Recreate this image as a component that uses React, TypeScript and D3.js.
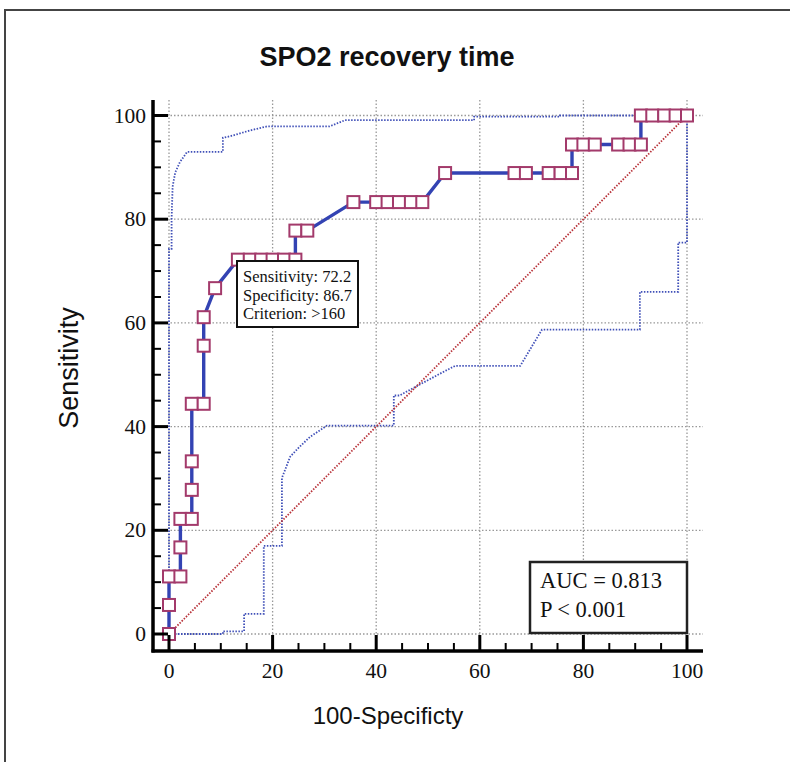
import React from "react";
import * as d3 from "d3";

const rocFpr = [0, 0, 0, 2.2, 2.2, 2.2, 4.4, 4.4, 4.4, 4.4, 6.7, 6.7, 6.7, 8.9, 13.3, 15.6, 17.8, 20, 22.2, 24.4, 24.4, 26.7, 35.6, 40, 42.2, 44.4, 46.7, 48.9, 53.3, 66.7, 68.9, 73.3, 75.6, 77.8, 77.8, 80, 82.2, 86.7, 88.9, 91.1, 91.1, 93.3, 95.6, 97.8, 100];
const rocSens = [0, 5.6, 11.1, 11.1, 16.7, 22.2, 22.2, 27.8, 33.3, 44.4, 44.4, 55.6, 61.1, 66.7, 72.2, 72.2, 72.2, 72.2, 72.2, 72.2, 77.8, 77.8, 83.3, 83.3, 83.3, 83.3, 83.3, 83.3, 88.9, 88.9, 88.9, 88.9, 88.9, 88.9, 94.4, 94.4, 94.4, 94.4, 94.4, 94.4, 100, 100, 100, 100, 100];

const upperFpr = [0, 0, 0.5, 0.5, 0.7, 1.2, 2.1, 3.5, 10.4, 10.4, 11.8, 15.6, 18.9, 31, 34, 58.9, 58.9, 75.5, 75.5, 100];
const upperSens = [0, 74.3, 74.3, 80, 86.3, 89, 91, 93, 93, 95.7, 96, 97.1, 97.9, 97.9, 99.1, 99.1, 99.8, 99.8, 100, 100];

const lowerFpr = [0, 10.4, 10.4, 14.5, 14.5, 18.3, 18.3, 21.8, 21.8, 23.4, 25, 27.2, 30.5, 43.4, 43.4, 44.5, 52.3, 55.2, 67.8, 72, 90.9, 90.9, 98.3, 98.3, 100, 100];
const lowerSens = [0, 0, 0.5, 0.5, 3.9, 3.9, 17, 17, 30.1, 34.2, 35.9, 38, 40.2, 40.2, 46, 46, 50.2, 51.7, 51.7, 58.7, 58.7, 66, 66, 75.5, 75.5, 100];

const majorTicks = [0, 20, 40, 60, 80, 100];
const minorTicks = [5, 10, 15, 25, 30, 35, 45, 50, 55, 65, 70, 75, 85, 90, 95];

const titleText = "SPO2 recovery time";
const xLabel = "100-Specificty";
const yLabel = "Sensitivity";
const criterionLines = ["Sensitivity: 72.2", "Specificity: 86.7", "Criterion: >160"];
const statLines = ["AUC = 0.813", "P < 0.001"];

export default function App() {
  const W = 790, H = 762;
  const x = d3.scaleLinear().domain([0, 100]).range([169, 687]);
  const y = d3.scaleLinear().domain([0, 100]).range([634, 115.5]);
  const axisLeft = 153, axisBottom = 651, plotRight = 703, plotTop = 100;

  const line = d3.line<[number, number]>().x(d => x(d[0])).y(d => y(d[1]));
  const roc = rocFpr.map((v, i) => [v, rocSens[i]] as [number, number]);
  const upper = upperFpr.map((v, i) => [v, upperSens[i]] as [number, number]);
  const lower = lowerFpr.map((v, i) => [v, lowerSens[i]] as [number, number]);

  const serif = "'Liberation Serif', 'Times New Roman', serif";
  const sans = "'Liberation Sans', Arial, sans-serif";
  const ms = 12;

  return (
    <svg width={W} height={H} style={{ position: "absolute", left: 0, top: 0, background: "#fff" }}>
      <rect x={0} y={0} width={W} height={H} fill="#fff" />
      <path d={`M5,${H} L5,10 L${W},10`} fill="none" stroke="#444" strokeWidth={2} />
      <text x={387} y={66} textAnchor="middle" fontFamily={sans} fontWeight="bold" fontSize={27} fill="#111">{titleText}</text>

      {majorTicks.map(t => (
        <g key={"g" + t}>
          <line x1={axisLeft} x2={plotRight} y1={y(t)} y2={y(t)} stroke="#999" strokeWidth={1.3} strokeDasharray="1.5,2" />
          <line x1={x(t)} x2={x(t)} y1={plotTop} y2={axisBottom} stroke="#999" strokeWidth={1.3} strokeDasharray="1.5,2" />
        </g>
      ))}

      <path d={line(upper) || ""} fill="none" stroke="#4050b8" strokeWidth={1.8} strokeDasharray="1.5,1.5" />
      <path d={line(lower) || ""} fill="none" stroke="#4050b8" strokeWidth={1.8} strokeDasharray="1.5,1.5" />
      <path d={line([[0, 0], [100, 100]]) || ""} fill="none" stroke="#b8333a" strokeWidth={1.8} strokeDasharray="1.5,1.5" />

      <path d={line(roc) || ""} fill="none" stroke="#3343b3" strokeWidth={3.4} strokeLinejoin="round" />
      {roc.map((d, i) => (
        <rect key={"m" + i} x={x(d[0]) - ms / 2} y={y(d[1]) - ms / 2} width={ms} height={ms} fill="#fff" stroke="#a33a6b" strokeWidth={2} />
      ))}

      <line x1={axisLeft} x2={axisLeft} y1={plotTop} y2={axisBottom + 1.5} stroke="#000" strokeWidth={3.5} />
      <line x1={axisLeft - 1.5} x2={plotRight} y1={axisBottom} y2={axisBottom} stroke="#000" strokeWidth={3.5} />
      {majorTicks.map(t => (
        <g key={"t" + t}>
          <line x1={axisLeft} x2={axisLeft + 15} y1={y(t)} y2={y(t)} stroke="#000" strokeWidth={3} />
          <line x1={x(t)} x2={x(t)} y1={axisBottom} y2={axisBottom - 16} stroke="#000" strokeWidth={3} />
          <text x={146} y={y(t) + 7} textAnchor="end" fontFamily={serif} fontSize={21.5} fill="#111">{t}</text>
          <text x={x(t)} y={678} textAnchor="middle" fontFamily={serif} fontSize={21.5} fill="#111">{t}</text>
        </g>
      ))}
      {minorTicks.map(t => (
        <g key={"n" + t}>
          <line x1={axisLeft} x2={axisLeft + 8} y1={y(t)} y2={y(t)} stroke="#000" strokeWidth={2} />
          <line x1={x(t)} x2={x(t)} y1={axisBottom} y2={axisBottom - 8} stroke="#000" strokeWidth={2} />
        </g>
      ))}

      <text x={388} y={724} textAnchor="middle" fontFamily={sans} fontSize={24} fill="#111">{xLabel}</text>
      <text transform="translate(78,368) rotate(-90)" textAnchor="middle" fontFamily={sans} fontSize={27} fill="#111">{yLabel}</text>

      <rect x={237} y={261} width={121} height={66} fill="#fff" stroke="#111" strokeWidth={2} />
      {criterionLines.map((s, i) => (
        <text key={"c" + i} x={243} y={282 + i * 18.5} fontFamily={serif} fontSize={16.5} fill="#111">{s}</text>
      ))}

      <rect x={530} y={562} width={157} height={71} fill="#fff" stroke="#222" strokeWidth={2.5} />
      {statLines.map((s, i) => (
        <text key={"s" + i} x={540} y={588 + i * 29} fontFamily={serif} fontSize={22.5} fill="#111">{s}</text>
      ))}
    </svg>
  );
}
